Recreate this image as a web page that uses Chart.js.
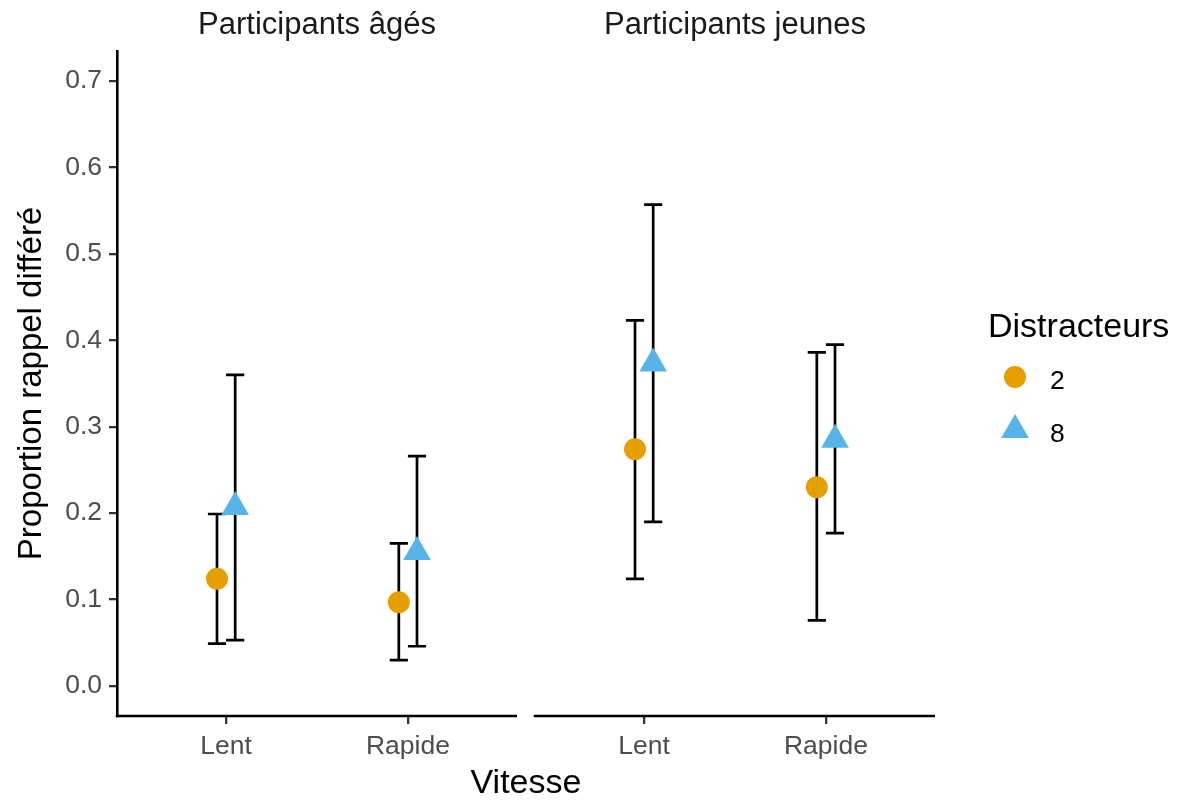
<!DOCTYPE html>
<html>
<head>
<meta charset="utf-8">
<script src="https://cdn.jsdelivr.net/npm/chart.js@4.4.1/dist/chart.umd.min.js"></script>
<style>
  html, body { margin: 0; padding: 0; background: #fff; }
  #wrap { width: 1179px; height: 801px; position: relative; }
</style>
</head>
<body>
<div id="wrap"><canvas id="chart"></canvas></div>
<script>
const panels = ['Participants âgés', 'Participants jeunes'];
const vitesses = ['Lent', 'Rapide'];
const distracteurs = ['2', '8'];

// order: âgés-Lent, âgés-Rapide, jeunes-Lent, jeunes-Rapide
const mean2 = [0.124, 0.097, 0.274, 0.230];
const low2  = [0.049, 0.030, 0.124, 0.076];
const high2 = [0.199, 0.165, 0.423, 0.386];

const mean8 = [0.207, 0.155, 0.373, 0.285];
const low8  = [0.053, 0.046, 0.190, 0.177];
const high8 = [0.360, 0.266, 0.557, 0.395];

const yTicks = [0.0, 0.1, 0.2, 0.3, 0.4, 0.5, 0.6, 0.7];

const FONT = "'Liberation Sans', Arial, sans-serif";
const panelShift = 2.299;   // distance in x units between the two facets
const dodge = 0.05;
const capHalf = 0.05;

Chart.defaults.font.family = FONT;

function catX(i) {
    return (i % 2) + 1 + Math.floor(i / 2) * panelShift;
}

const tickPos = mean2.map((v, i) => catX(i));

function makeData(means, offset) {
    return means.map((m, i) => ({ x: catX(i) + offset, y: m }));
}

const errorBars = {
    id: 'errorBars',
    beforeDatasetsDraw(chart) {
        const { ctx, scales: { x, y } } = chart;
        ctx.save();
        ctx.strokeStyle = '#000';
        ctx.lineWidth = 2.7;
        chart.data.datasets.forEach(ds => {
            ds.data.forEach((p, i) => {
                const px = x.getPixelForValue(p.x);
                const l = x.getPixelForValue(p.x - capHalf);
                const r = x.getPixelForValue(p.x + capHalf);
                const yl = y.getPixelForValue(ds.errLow[i]);
                const yh = y.getPixelForValue(ds.errHigh[i]);
                ctx.beginPath();
                ctx.moveTo(px, yl); ctx.lineTo(px, yh);
                ctx.moveTo(l, yl); ctx.lineTo(r, yl);
                ctx.moveTo(l, yh); ctx.lineTo(r, yh);
                ctx.stroke();
            });
        });
        ctx.restore();
    }
};

const facets = {
    id: 'facets',
    afterDraw(chart) {
        const { ctx, chartArea, scales: { x } } = chart;
        ctx.save();
        // x axis line, one piece per facet
        ctx.strokeStyle = '#000';
        ctx.lineWidth = 2.6;
        ctx.beginPath();
        panels.forEach((p, k) => {
            const a = x.getPixelForValue(0.4 + k * panelShift);
            const b = x.getPixelForValue(2.6 + k * panelShift);
            ctx.moveTo(a - 1.3, chartArea.bottom);
            ctx.lineTo(b, chartArea.bottom);
        });
        ctx.stroke();

        // strip labels
        ctx.fillStyle = '#1A1A1A';
        ctx.font = '31px ' + FONT;
        ctx.textAlign = 'center';
        ctx.textBaseline = 'alphabetic';
        panels.forEach((p, k) => {
            ctx.fillText(p, x.getPixelForValue(1.5 + k * panelShift), 34);
        });

        // legend
        ctx.textAlign = 'left';
        ctx.fillStyle = '#000';
        ctx.font = '34px ' + FONT;
        ctx.fillText('Distracteurs', 988, 337);
        chart.data.datasets.forEach((ds, k) => {
            const cy = k === 0 ? 377 : 430;
            ctx.fillStyle = ds.backgroundColor;
            ctx.strokeStyle = ds.backgroundColor;
            Chart.helpers.drawPoint(ctx, {
                pointStyle: ds.pointStyle,
                radius: ds.pointRadius,
                borderWidth: 0,
                rotation: 0
            }, 1015, cy);
            ctx.fillStyle = '#000';
            ctx.font = '26.5px ' + FONT;
            ctx.fillText(ds.label, 1050, k === 0 ? 389 : 442);
        });
        ctx.restore();
    }
};

new Chart(document.getElementById('chart'), {
    type: 'scatter',
    data: {
        datasets: [
            {
                label: distracteurs[0],
                data: makeData(mean2, -dodge),
                errLow: low2,
                errHigh: high2,
                pointStyle: 'circle',
                pointRadius: 11,
                backgroundColor: '#E69F00',
                borderColor: '#E69F00',
                borderWidth: 0,
                pointBorderWidth: 0
            },
            {
                label: distracteurs[1],
                data: makeData(mean8, dodge),
                errLow: low8,
                errHigh: high8,
                pointStyle: 'triangle',
                pointRadius: 16,
                backgroundColor: '#56B4E9',
                borderColor: '#56B4E9',
                borderWidth: 0,
                pointBorderWidth: 0
            }
        ]
    },
    options: {
        responsive: true,
        maintainAspectRatio: false,
        animation: false,
        layout: { padding: { top: 51, right: 244, bottom: 0, left: 0 } },
        plugins: {
            legend: { display: false },
            tooltip: { enabled: false }
        },
        scales: {
            x: {
                type: 'linear',
                min: 0.4,
                max: 2.6 + panelShift,
                afterBuildTicks: (scale) => { scale.ticks = tickPos.map(v => ({ value: v })); },
                afterFit: (scale) => { scale.height = 85; },
                border: { display: false },
                grid: { drawOnChartArea: false, drawTicks: true, tickLength: 8, color: '#333333', lineWidth: 2.3 },
                ticks: {
                    autoSkip: false,
                    maxRotation: 0,
                    padding: 7,
                    color: '#4D4D4D',
                    font: { size: 26.5 },
                    callback: (v, i) => vitesses[i % 2]
                },
                title: {
                    display: true,
                    text: 'Vitesse',
                    color: '#000',
                    font: { size: 34, lineHeight: 1 },
                    padding: { top: 0, bottom: 0 }
                }
            },
            y: {
                min: -0.0347,
                max: 0.7347,
                afterBuildTicks: (scale) => { scale.ticks = yTicks.map(v => ({ value: v })); },
                afterFit: (scale) => { scale.width = 117; },
                border: { display: true, color: '#000', width: 2.6 },
                grid: { drawOnChartArea: false, drawTicks: true, tickLength: 8, color: '#333333', lineWidth: 2.3 },
                ticks: {
                    padding: 7,
                    color: '#4D4D4D',
                    font: { size: 26.5 },
                    callback: (v) => v.toFixed(1)
                },
                title: {
                    display: true,
                    text: 'Proportion rappel différé',
                    color: '#000',
                    font: { size: 33, lineHeight: 1 },
                    padding: { top: 15, bottom: 0 }
                }
            }
        }
    },
    plugins: [errorBars, facets]
});
</script>
</body>
</html>
